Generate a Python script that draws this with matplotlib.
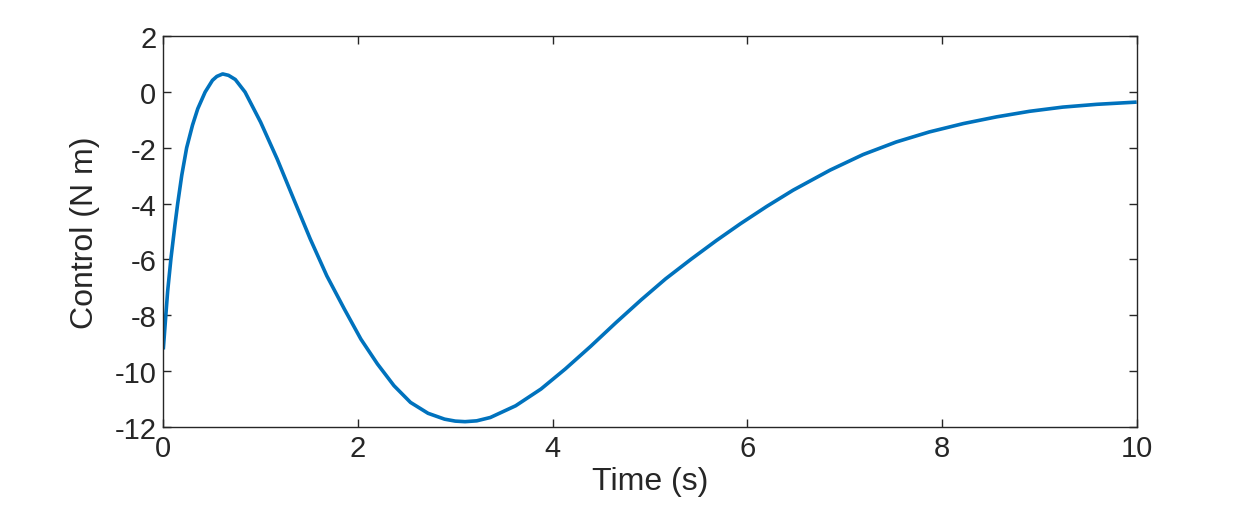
import matplotlib
matplotlib.use("Agg")
import matplotlib.pyplot as plt

# Data
time_s = [0.0, 0.027, 0.045, 0.079, 0.12, 0.148, 0.19, 0.24, 0.30, 0.354,
          0.43, 0.505, 0.55, 0.61, 0.67, 0.74, 0.84, 1.0, 1.17, 1.34,
          1.51, 1.68, 1.86, 2.03, 2.2, 2.37, 2.54, 2.72, 2.89, 3.0,
          3.10, 3.22, 3.36, 3.62, 3.88, 4.13, 4.39, 4.65, 4.91, 5.16,
          5.42, 5.68, 5.93, 6.20, 6.47, 6.85, 7.19, 7.53, 7.87, 8.22,
          8.56, 8.90, 9.24, 9.59, 10.0]
control_nm = [-9.23, -7.96, -7.14, -5.96, -4.76, -4.0, -2.98, -2.0, -1.19, -0.6,
              0.0, 0.42, 0.56, 0.65, 0.6, 0.45, 0.0, -1.08, -2.40, -3.84,
              -5.27, -6.59, -7.78, -8.86, -9.75, -10.53, -11.13, -11.52, -11.73, -11.80,
              -11.82, -11.79, -11.67, -11.25, -10.65, -9.93, -9.12, -8.27, -7.45, -6.70,
              -6.00, -5.33, -4.72, -4.10, -3.52, -2.80, -2.24, -1.79, -1.43, -1.13,
              -0.89, -0.69, -0.54, -0.44, -0.36]
x_ticks = [0, 2, 4, 6, 8, 10]
y_ticks = [2, 0, -2, -4, -6, -8, -10, -12]

plt.rcParams['font.family'] = ['Liberation Sans', 'DejaVu Sans']

fig = plt.figure(figsize=(12.56, 5.10), dpi=100)
ax = fig.add_axes([0.130, 0.1614, 0.775, 0.7655])

ax.plot(time_s, control_nm, color='#0072BD', linewidth=2.6,
        solid_joinstyle='round', solid_capstyle='butt')

ax.set_xlim(0, 10)
ax.set_ylim(-12, 2)
ax.set_xticks(x_ticks)
ax.set_yticks(y_ticks)
ax.set_xticklabels([str(v) for v in x_ticks])
ax.set_yticklabels([str(v) for v in y_ticks])

axis_color = '#262626'
for s in ax.spines.values():
    s.set_color(axis_color)
    s.set_linewidth(1.0)
ax.tick_params(direction='in', length=6, width=1.0, color=axis_color,
               labelcolor=axis_color, labelsize=21, top=True, right=True, pad=5)

ax.set_xlabel('Time (s)', fontsize=23, color=axis_color, labelpad=3)
ax.set_ylabel('Control (N m)', fontsize=23, color=axis_color, labelpad=10)

fig.savefig('out.png', dpi=100, facecolor='white')
